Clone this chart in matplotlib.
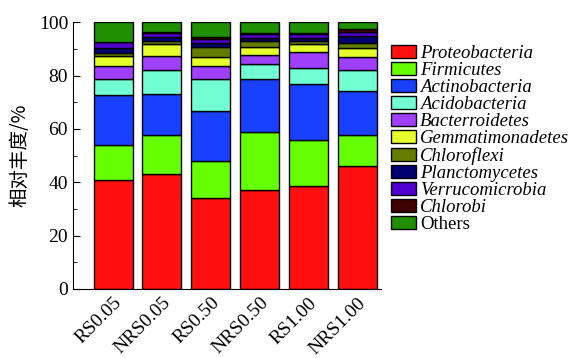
import numpy as np
import matplotlib
matplotlib.use("Agg")
import matplotlib.pyplot as plt
from matplotlib.ticker import MultipleLocator

plt.rcParams['font.family'] = ['Liberation Serif', 'Noto Sans CJK SC']

samples = ['RS0.05', 'NRS0.05', 'RS0.50', 'NRS0.50', 'RS1.00', 'NRS1.00']
taxa = ['Proteobacteria', 'Firmicutes', 'Actinobacteria', 'Acidobacteria',
        'Bacterroidetes', 'Gemmatimonadetes', 'Chloroflexi', 'Planctomycetes',
        'Verrucomicrobia', 'Chlorobi', 'Others']

proteobacteria = [41.0, 43.0, 34.0, 37.0, 38.5, 46.0]
firmicutes = [13.0, 14.7, 13.8, 21.8, 17.2, 11.7]
actinobacteria = [18.6, 15.5, 19.0, 19.8, 21.3, 16.6]
acidobacteria = [6.0, 8.8, 11.8, 5.6, 5.7, 7.7]
bacteroidetes = [5.0, 5.5, 5.0, 3.6, 6.1, 5.0]
gemmatimonadetes = [3.7, 4.2, 3.4, 2.8, 3.2, 3.4]
chloroflexi = [1.2, 1.2, 3.8, 2.4, 0.9, 1.9]
planctomycetes = [1.9, 1.7, 1.5, 1.2, 1.2, 2.5]
verrucomicrobia = [2.1, 1.5, 1.5, 1.5, 1.4, 1.5]
chlorobi = [0.2, 0.3, 0.7, 0.3, 0.5, 1.2]
others = [7.3, 3.6, 5.5, 4.0, 4.0, 2.5]

series = [proteobacteria, firmicutes, actinobacteria, acidobacteria, bacteroidetes,
          gemmatimonadetes, chloroflexi, planctomycetes, verrucomicrobia, chlorobi, others]
colors = ['#ff0f0f', '#66ff00', '#1a40ff', '#73ffd4', '#a040ff', '#e6ff2a',
          '#647d00', '#000070', '#5000d0', '#400000', '#209000']

fig = plt.figure(figsize=(5.81, 3.58), dpi=100)
ax = fig.add_axes([0.1256, 0.193, 0.53, 0.745])

# stacked bars
x = np.arange(len(samples))
bottom = np.zeros(len(samples))
for name, vals, c in zip(taxa, series, colors):
    ax.bar(x, vals, 0.8, bottom=bottom, color=c, edgecolor='black', linewidth=1.0, label=name)
    bottom += np.array(vals)

ax.set_xlim(-0.82, 5.48)
ax.set_ylim(0, 100)
ax.yaxis.set_major_locator(MultipleLocator(20))
ax.yaxis.set_minor_locator(MultipleLocator(10))
ax.spines['top'].set_visible(False)
ax.spines['right'].set_visible(False)
ax.tick_params(axis='y', which='major', direction='in', length=5, labelsize=14)
ax.tick_params(axis='y', which='minor', direction='in', length=3)
ax.tick_params(axis='x', direction='in', length=0, labelsize=14, pad=4)
ax.set_xticks(x)
ax.set_xticklabels(samples, rotation=45, ha='right', rotation_mode='anchor')
ax.set_ylabel('相对丰度/%', fontsize=14, family=['Noto Sans CJK SC'], labelpad=6)

leg = fig.legend(loc='upper left', bbox_to_anchor=(391 / 581, 1 - 45 / 358),
                 frameon=False, fontsize=13.5, handlelength=1.35, handleheight=0.7,
                 handletextpad=0.2, labelspacing=-0.005, borderpad=0, borderaxespad=0)
for t in leg.get_texts():
    if t.get_text() != 'Others':
        t.set_style('italic')

fig.savefig('out.png', dpi=100)
